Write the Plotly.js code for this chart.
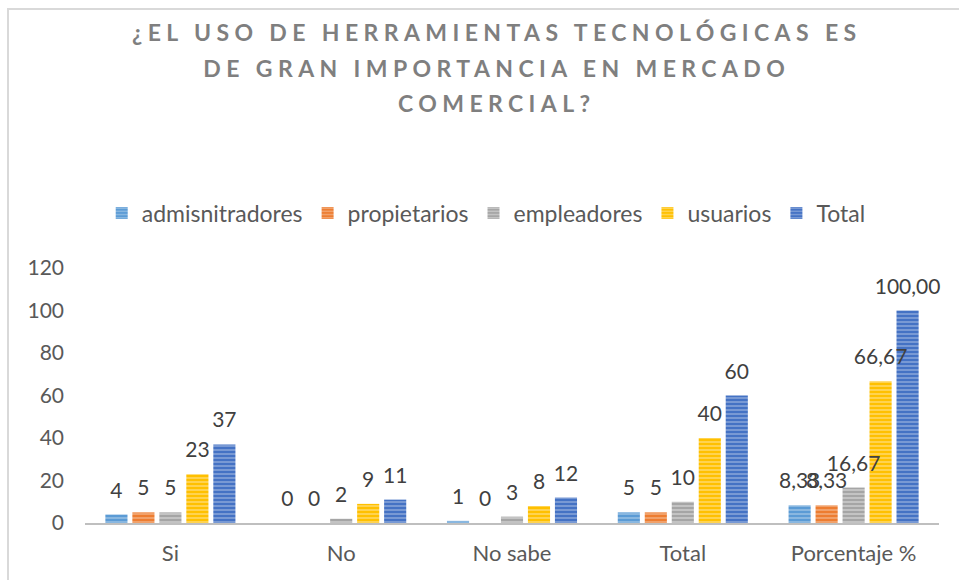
<!DOCTYPE html>
<html>
<head>
<meta charset="utf-8">
<script src="https://cdn.plot.ly/plotly-3.0.1.min.js"></script>
<style>
  html, body { margin: 0; padding: 0; background: #fff; }
  #wrap { position: relative; width: 959px; height: 580px; }
  #chart { width: 959px; height: 580px; }
  #frame { position: absolute; left: 7px; top: 8px; width: 970px; height: 600px;
           border-left: 2px solid #d9d9d9; border-top: 2px solid #d9d9d9; pointer-events: none; }
  .gtitle { letter-spacing: 5.4px; }
  .toplabels text { translate: 0 -10px; }
</style>
</head>
<body>
<div id="wrap">
  <div id="chart"></div>
  <div id="frame"></div>
</div>
<script>
const categories = ["Si", "No", "No sabe", "Total", "Porcentaje %"];
const seriesNames = ["admisnitradores", "propietarios", "empleadores", "usuarios", "Total"];
const admisnitradores = [4, 0, 1, 5, 8.33];
const propietarios = [5, 0, 0, 5, 8.33];
const empleadores = [5, 2, 3, 10, 16.67];
const usuarios = [23, 9, 8, 40, 66.67];
const totalSerie = [37, 11, 12, 60, 100.00];
const yTicks = [0, 20, 40, 60, 80, 100, 120];

const allValues = [admisnitradores, propietarios, empleadores, usuarios, totalSerie];
const colors = ["#5B9BD5", "#ED7D31", "#A5A5A5", "#FFC000", "#4472C4"];
const lightColors = ["#9DC3E6", "#F4B183", "#D0D0D0", "#FFDC73", "#8FAADC"];
const FONT = "Lato, 'Open Sans', sans-serif";

function fmt(v, i) {
  if (categories[i] === "Porcentaje %") return v.toFixed(2).replace(".", ",");
  return String(v);
}

const traces = allValues.map((vals, s) => ({
  type: "bar",
  name: seriesNames[s],
  x: categories,
  y: vals,
  text: vals.map((v, i) => fmt(v, i)),
  textposition: "outside",
  constraintext: "none",
  cliponaxis: false,
  textfont: { family: FONT, size: 21, color: "#404040" },
  marker: {
    color: colors[s],
    line: { width: 0 },
    pattern: { shape: "-", fgcolor: lightColors[s], bgcolor: colors[s], size: 4, solidity: 0.35, fillmode: "replace" }
  },
  hoverinfo: "x+y+name"
}));

const layout = {
  width: 959, height: 580,
  paper_bgcolor: "#ffffff", plot_bgcolor: "#ffffff",
  margin: { l: 85, r: 20, t: 268, b: 57 },
  font: { family: FONT, size: 21, color: "#595959" },
  title: {
    text: "¿EL USO DE HERRAMIENTAS TECNOLÓGICAS ES<br>DE GRAN IMPORTANCIA EN MERCADO<br>COMERCIAL?",
    font: { family: FONT, size: 23, color: "#7F7F7F", weight: "bold" },
    x: 0.518, xref: "container", xanchor: "center",
    y: 1 - 41 / 580, yref: "container", yanchor: "top"
  },
  barmode: "group",
  bargap: 0.21,
  bargroupgap: 0.18,
  showlegend: true,
  legend: {
    orientation: "h",
    xref: "container", yref: "container",
    x: 0.507, xanchor: "center",
    y: 1 - 213 / 580, yanchor: "middle",
    font: { family: FONT, size: 23, color: "#595959" },
    traceorder: "normal",
    itemwidth: 30
  },
  xaxis: {
    type: "category",
    showline: true, linecolor: "#BFBFBF", linewidth: 2,
    showgrid: false, zeroline: false, ticks: "",
    tickfont: { size: 22, color: "#595959" },
    ticklabelstandoff: 10
  },
  yaxis: {
    range: [0, 120],
    tickvals: yTicks,
    showline: false, showgrid: false, zeroline: false, ticks: "",
    tickfont: { size: 21, color: "#595959" },
    ticklabelstandoff: 20
  }
};

Plotly.newPlot("chart", traces, layout, { displayModeBar: false, staticPlot: true }).then(() => {
  document.querySelectorAll(".gtitle tspan.line").forEach((t, i) => {
    t.setAttribute("dy", (i * 1.55) + "em");
  });
  // draw bar value labels above all bars, as in the reference
  const layer = document.querySelector(".barlayer");
  if (layer) {
    const ns = "http://www.w3.org/2000/svg";
    const g = document.createElementNS(ns, "g");
    g.setAttribute("class", "toplabels");
    layer.querySelectorAll("g.point text").forEach(t => g.appendChild(t));
    layer.appendChild(g);
  }
});
</script>
</body>
</html>
